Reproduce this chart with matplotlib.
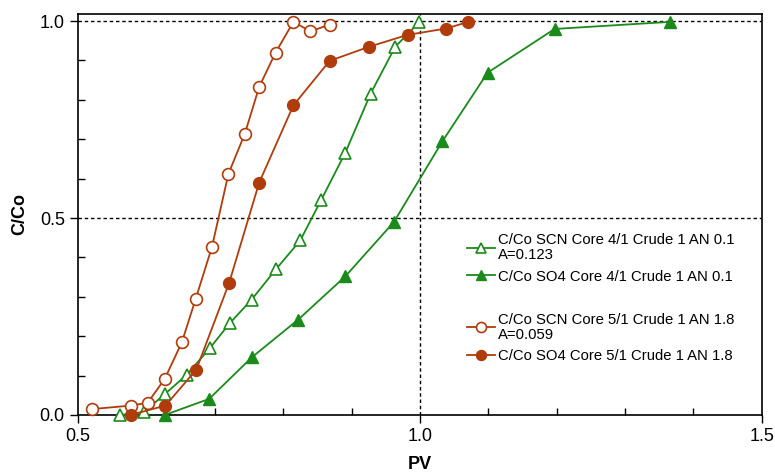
import matplotlib
matplotlib.use("Agg")
import matplotlib.pyplot as plt
from matplotlib.lines import Line2D
from matplotlib.ticker import MultipleLocator

plt.rcParams['font.family'] = ['Liberation Sans', 'DejaVu Sans']

# SCN Core 4/1 (open triangles)
scn4_x = [0.562, 0.596, 0.627, 0.659, 0.693, 0.722, 0.754, 0.790, 0.825, 0.856, 0.891, 0.928, 0.964, 0.999]
scn4_y = [0.000, 0.007, 0.053, 0.102, 0.170, 0.233, 0.293, 0.371, 0.443, 0.547, 0.666, 0.816, 0.935, 0.997]
# SO4 Core 4/1 (filled triangles)
so44_x = [0.627, 0.692, 0.754, 0.822, 0.891, 0.962, 1.033, 1.099, 1.197, 1.366]
so44_y = [0.000, 0.041, 0.146, 0.242, 0.352, 0.490, 0.695, 0.869, 0.980, 0.998]
# SCN Core 5/1 (open circles)
scn5_x = [0.521, 0.578, 0.602, 0.627, 0.652, 0.672, 0.696, 0.720, 0.744, 0.765, 0.789, 0.815, 0.840, 0.868]
scn5_y = [0.015, 0.024, 0.031, 0.092, 0.185, 0.294, 0.427, 0.612, 0.714, 0.833, 0.920, 0.998, 0.974, 0.991]
# SO4 Core 5/1 (filled circles)
so45_x = [0.577, 0.628, 0.673, 0.721, 0.765, 0.815, 0.868, 0.926, 0.982, 1.038, 1.071]
so45_y = [0.000, 0.024, 0.115, 0.335, 0.590, 0.786, 0.899, 0.935, 0.965, 0.981, 0.998]

labels = ["C/Co SCN Core 4/1 Crude 1 AN 0.1\nA=0.123",
          "C/Co SO4 Core 4/1 Crude 1 AN 0.1",
          "C/Co SCN Core 5/1 Crude 1 AN 1.8\nA=0.059",
          "C/Co SO4 Core 5/1 Crude 1 AN 1.8"]

green = '#1a8a1a'
brown = '#b03c0c'

fig = plt.figure(figsize=(7.75, 4.74), dpi=100)
ax = fig.add_axes([0.1006, 0.1245, 0.8824, 0.8460])

ms = 8.5
h1, = ax.plot(scn4_x, scn4_y, color=green, lw=1.3, marker='^', ms=ms, mfc='white', mec=green, mew=1.2, clip_on=False, zorder=3)
h2, = ax.plot(so44_x, so44_y, color=green, lw=1.3, marker='^', ms=ms, mfc=green, mec=green, clip_on=False, zorder=3)
h3, = ax.plot(scn5_x, scn5_y, color=brown, lw=1.3, marker='o', ms=ms, mfc='white', mec=brown, mew=1.2, clip_on=False, zorder=3)
h4, = ax.plot(so45_x, so45_y, color=brown, lw=1.3, marker='o', ms=ms, mfc=brown, mec=brown, clip_on=False, zorder=3)

for yv in (0.5, 1.0):
    ax.axhline(yv, color='black', lw=1.0, ls=(0, (2.5, 2)), zorder=1)
ax.axvline(1.0, color='black', lw=1.0, ls=(0, (2.5, 2)), zorder=1)

ax.set_xlim(0.5, 1.5)
ax.set_ylim(0.0, 1.018)
ax.xaxis.set_major_locator(MultipleLocator(0.5))
ax.yaxis.set_major_locator(MultipleLocator(0.5))
ax.xaxis.set_minor_locator(MultipleLocator(0.1))
ax.yaxis.set_minor_locator(MultipleLocator(0.1))
ax.xaxis.set_major_formatter(plt.FormatStrFormatter('%.1f'))
ax.yaxis.set_major_formatter(plt.FormatStrFormatter('%.1f'))
ax.tick_params(which='major', direction='out', length=6, width=1.0, labelsize=13)
ax.tick_params(which='minor', direction='in', length=5, width=1.0)
for s in ax.spines.values():
    s.set_linewidth(1.2)

ax.set_xlabel('PV', fontsize=13, fontweight='bold', labelpad=8)
ax.set_ylabel('C/Co', fontsize=13, fontweight='bold', labelpad=8)

blank = Line2D([], [], color='none')
leg = ax.legend([h1, h2, blank, h3, h4], [labels[0], labels[1], '', labels[2], labels[3]],
                loc='upper left', bbox_to_anchor=(0.558, 0.472), frameon=False,
                fontsize=10.7, handlelength=1.9, handletextpad=0.2, labelspacing=0.5,
                borderpad=0, markerscale=0.85)
for t in leg.get_texts():
    t.set_linespacing(1.1)

fig.savefig('out.png', dpi=100)
